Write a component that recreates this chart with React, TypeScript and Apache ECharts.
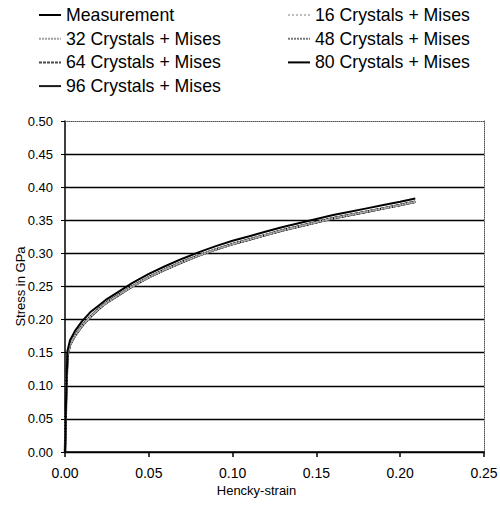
import React, { useEffect, useRef } from "react";
import * as echarts from "echarts";

const strain = [0, 0.0008, 0.0015, 0.003, 0.006, 0.010, 0.015, 0.020, 0.025, 0.030, 0.040, 0.050, 0.060, 0.070, 0.080, 0.090, 0.100, 0.110, 0.120, 0.130, 0.140, 0.150, 0.160, 0.170, 0.180, 0.190, 0.200, 0.209];
const measurement = [0, 0.100, 0.153, 0.169, 0.183, 0.197, 0.211, 0.221, 0.231, 0.239, 0.255, 0.269, 0.281, 0.292, 0.302, 0.311, 0.319, 0.326, 0.333, 0.340, 0.346, 0.352, 0.358, 0.363, 0.368, 0.373, 0.378, 0.383];
const simulation = [0, 0.098, 0.146, 0.162, 0.176, 0.190, 0.204, 0.216, 0.226, 0.234, 0.250, 0.264, 0.276, 0.287, 0.297, 0.306, 0.314, 0.321, 0.328, 0.335, 0.341, 0.347, 0.353, 0.358, 0.363, 0.368, 0.373, 0.378];

const simNames = ["16 Crystals + Mises", "32 Crystals + Mises", "48 Crystals + Mises", "64 Crystals + Mises", "80 Crystals + Mises", "96 Crystals + Mises"];
const legendLeft = ["Measurement", "32 Crystals + Mises", "64 Crystals + Mises", "96 Crystals + Mises"];
const legendRight = ["16 Crystals + Mises", "48 Crystals + Mises", "80 Crystals + Mises"];

const FONT = "Arial, 'Liberation Sans', sans-serif";

export default function App() {
  const ref = useRef<HTMLDivElement>(null);
  useEffect(() => {
    if (!ref.current) return;
    const chart = echarts.init(ref.current, undefined, { renderer: "svg" });
    const measData = strain.map((x, i) => [x, measurement[i]]);
    const simData = strain.map((x, i) => [x, simulation[i]]);
    const simStyles: Record<string, any> = {
      "16 Crystals + Mises": { color: "#bdbdbd", width: 1.2, type: "dotted" },
      "32 Crystals + Mises": { color: "#a0a0a0", width: 2, type: [2, 1] },
      "48 Crystals + Mises": { color: "#7a7a7a", width: 2, type: [2, 1] },
      "64 Crystals + Mises": { color: "#4a4a4a", width: 2, type: [3, 1] },
      "80 Crystals + Mises": { color: "#000000", width: 2, type: "solid" },
      "96 Crystals + Mises": { color: "#1a1a1a", width: 2.5, type: "solid" },
    };
    const drawOrder = [...simNames].reverse();
    const series: any[] = drawOrder.map((name) => ({
      name,
      type: "line",
      data: simData,
      symbol: "none",
      lineStyle: simStyles[name],
      itemStyle: { color: simStyles[name].color },
      xAxisIndex: 0,
      yAxisIndex: 0,
    }));
    series.push({
      name: "Measurement",
      type: "line",
      data: measData,
      symbol: "none",
      lineStyle: { color: "#000", width: 2 },
      itemStyle: { color: "#000" },
      xAxisIndex: 0,
      yAxisIndex: 0,
    });
    const legendCommon = {
      orient: "vertical",
      top: 6,
      padding: 0,
      itemWidth: 22,
      itemHeight: 18,
      itemGap: 5.7,
      itemStyle: { opacity: 0 },
      textStyle: { color: "#000", fontSize: 17.7, fontFamily: FONT, lineHeight: 18 },
    };
    const yColors = Array.from({ length: 11 }, (_, i) => (i === 10 ? "transparent" : "#000"));
    chart.setOption({
      animation: false,
      backgroundColor: "#fff",
      legend: [
        { ...legendCommon, left: 38, data: legendLeft },
        { ...legendCommon, left: 287, data: legendRight },
      ],
      grid: { left: 65, right: 16, top: 121, bottom: 58, containLabel: false, outerBoundsMode: "none" },
      xAxis: [
        {
          type: "value",
          min: 0,
          max: 0.25,
          interval: 0.05,
          name: "Hencky-strain",
          nameLocation: "middle",
          nameGap: 32,
          nameMoveOverlap: false,
          nameTextStyle: { color: "#000", fontSize: 13, fontFamily: FONT, padding: [0, 36, 0, 0], verticalAlign: "top" },
          axisLine: { show: true, onZero: false, lineStyle: { color: "#000", width: 1.5 } },
          axisTick: { show: true, inside: false, length: 5, lineStyle: { color: "#000", width: 1.5 } },
          axisLabel: { color: "#000", fontSize: 14, fontFamily: FONT, margin: 14, formatter: (v: number) => v.toFixed(2) },
          splitLine: { show: false },
        },
        {
          type: "value",
          position: "top",
          min: 0,
          max: 0.25,
          interval: 0.05,
          axisLine: { show: true, onZero: false, lineStyle: { color: "#555", width: 1, type: "dotted" } },
          axisTick: { show: false },
          axisLabel: { show: false },
          splitLine: { show: false },
        },
      ],
      yAxis: [
        {
          type: "value",
          min: 0,
          max: 0.5,
          interval: 0.05,
          name: "Stress in GPa",
          nameLocation: "middle",
          nameGap: 38,
          nameMoveOverlap: false,
          nameTextStyle: { color: "#000", fontSize: 13, fontFamily: FONT },
          axisLine: { show: true, onZero: false, lineStyle: { color: "#000", width: 1.5 } },
          axisTick: { show: true, inside: false, length: 4, lineStyle: { color: "#000", width: 1 } },
          axisLabel: { color: "#000", fontSize: 13, fontFamily: FONT, margin: 12, formatter: (v: number) => v.toFixed(2) },
          splitLine: { show: true, lineStyle: { color: yColors, width: 1.3 } },
        },
        {
          type: "value",
          position: "right",
          min: 0,
          max: 0.5,
          interval: 0.05,
          axisLine: { show: true, onZero: false, lineStyle: { color: "#555", width: 1, type: "dotted" } },
          axisTick: { show: false },
          axisLabel: { show: false },
          splitLine: { show: false },
        },
      ],
      series,
    });
    return () => chart.dispose();
  }, []);
  return (
    <div
      ref={ref}
      style={{ position: "fixed", left: 0, top: 0, width: 500, height: 510, background: "#fff" }}
    />
  );
}
